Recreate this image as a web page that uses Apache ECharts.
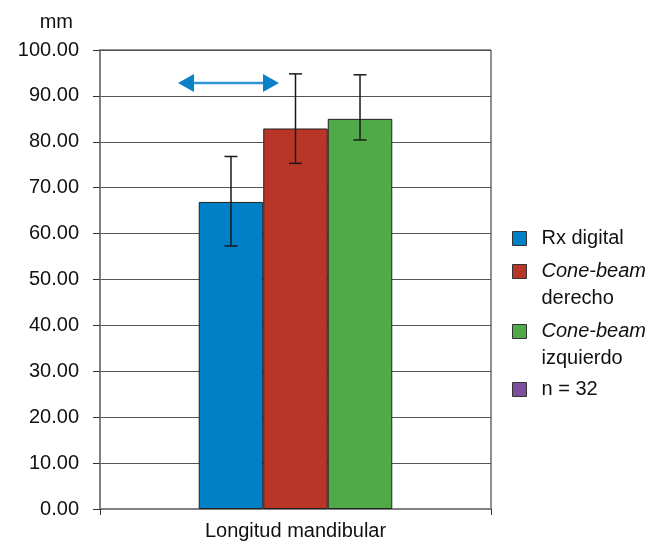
<!DOCTYPE html>
<html><head><meta charset="utf-8">
<script src="https://cdn.jsdelivr.net/npm/echarts@6/dist/echarts.min.js"></script>
<style>html,body{margin:0;padding:0;background:#fff}#c{width:667px;height:544px}</style>
</head><body><div id="c"></div>
<script>
const categories = ['Longitud mandibular'];
const seriesNames = ['Rx digital', 'Cone-beam derecho', 'Cone-beam izquierdo', 'n = 32'];
const means = [66.9, 82.9, 85.0];
const errLow = [57.3, 75.3, 80.4];
const errHigh = [76.8, 94.8, 94.6];
const colors = ['#0080c6', '#b83628', '#50aa48', '#7e4f9f'];
const yTicks = { min: 0, max: 100, interval: 10 };

const FONT = 'Liberation Sans, Arial, sans-serif';
const BARW = 0.165;

const chart = echarts.init(document.getElementById('c'));

const barSeries = means.map((m, i) => ({
  name: seriesNames[i], type: 'bar', data: [m], barWidth: (BARW * 100) + '%', barGap: '0%',
  itemStyle: { color: colors[i], borderColor: '#222', borderWidth: 1 }, z: 2
}));

const errData = means.map((m, i) => [0, errLow[i], errHigh[i], i]);

const legendText = {
  fontFamily: FONT, fontSize: 20, color: '#111', padding: [0, 0, 0, 10],
  rich: {
    n: { fontFamily: FONT, fontSize: 20, color: '#111', lineHeight: 27 },
    i: { fontFamily: FONT, fontSize: 20, color: '#111', lineHeight: 27, fontStyle: 'italic' },
    e: { fontSize: 20, lineHeight: 27 }
  }
};
function fmt(name) {
  if (name.indexOf('Cone-beam') === 0) {
    return '{e| }\n{i|Cone-beam}\n{n|' + name.slice(10) + '}';
  }
  return '{n|' + name + '}';
}
const legendTops = [228.5, 234.5, 294.5, 379.5];
const legends = seriesNames.map((n, i) => ({
  data: [n], orient: 'vertical', left: 512, top: legendTops[i], padding: 0,
  itemWidth: 14, itemHeight: 14, icon: 'rect', selectedMode: false,
  itemStyle: { borderColor: '#333', borderWidth: 1 },
  textStyle: legendText, formatter: fmt
}));

chart.setOption({
  animation: false,
  grid: { left: 100, right: 176, top: 50, bottom: 35, show: true, borderColor: '#222', borderWidth: 1 },
  legend: legends,
  xAxis: {
    type: 'category', data: categories, boundaryGap: true,
    axisLine: { lineStyle: { color: '#808080', width: 2 } },
    axisTick: { show: true, length: 6, lineStyle: { color: '#333' } },
    axisLabel: { fontFamily: FONT, fontSize: 20, color: '#111', margin: 12 }
  },
  yAxis: {
    type: 'value', min: yTicks.min, max: yTicks.max, interval: yTicks.interval,
    name: 'mm', nameLocation: 'end', nameGap: 18,
    nameTextStyle: { fontFamily: FONT, fontSize: 20, color: '#111', align: 'right', padding: [0, 27, 0, 0] },
    axisLine: { show: true, lineStyle: { color: '#808080', width: 2 } },
    axisTick: { show: true, length: 7, lineStyle: { color: '#333' } },
    axisLabel: { fontFamily: FONT, fontSize: 20, color: '#111', margin: 21, formatter: v => v.toFixed(2) },
    splitLine: { lineStyle: { color: '#555', width: 1 } }
  },
  series: barSeries.concat([
    { name: seriesNames[3], type: 'line', data: [], itemStyle: { color: colors[3] } },
    {
      type: 'custom', name: 'err', z: 5, data: errData,
      encode: { x: 0, y: [1, 2] },
      renderItem: function (params, api) {
        const idx = api.value(3);
        const band = api.size([1, 0])[0];
        const off = (idx - 1) * band * BARW;
        const lo = api.coord([api.value(0), api.value(1)]);
        const hi = api.coord([api.value(0), api.value(2)]);
        const x = lo[0] + off;
        const cw = 6.5;
        const st = { stroke: '#1a1a1a', lineWidth: 1.5 };
        return {
          type: 'group', children: [
            { type: 'line', shape: { x1: x, y1: lo[1], x2: x, y2: hi[1] }, style: st },
            { type: 'line', shape: { x1: x - cw, y1: lo[1], x2: x + cw, y2: lo[1] }, style: st },
            { type: 'line', shape: { x1: x - cw, y1: hi[1], x2: x + cw, y2: hi[1] }, style: st }
          ]
        };
      }
    }
  ]),
  graphic: [
    { type: 'line', shape: { x1: 190, y1: 83, x2: 267, y2: 83 }, style: { stroke: '#2f95d6', lineWidth: 2.5 }, z: 10 },
    { type: 'polygon', shape: { points: [[178, 83], [194, 74], [194, 92]] }, style: { fill: '#0a82c8' }, z: 10 },
    { type: 'polygon', shape: { points: [[279, 83], [263, 74], [263, 92]] }, style: { fill: '#0a82c8' }, z: 10 }
  ]
});
</script></body></html>
